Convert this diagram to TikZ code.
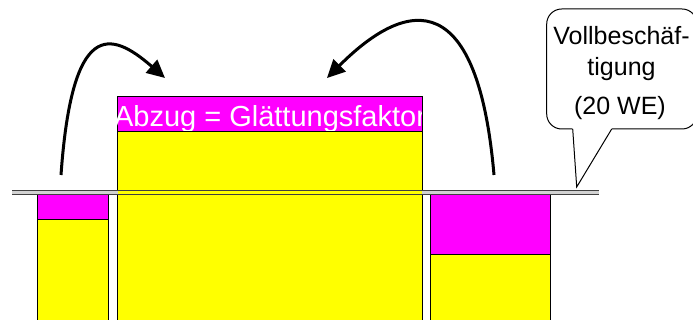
\documentclass[tikz,border=0pt]{standalone}
\usepackage{fontspec}
\setmainfont{Liberation Sans}
\usetikzlibrary{arrows.meta}
\definecolor{barY}{RGB}{255,255,0}
\definecolor{barM}{RGB}{255,0,255}
\begin{document}
\begin{tikzpicture}[x=1pt,y=-1pt,
  bar/.style={draw=black,line width=0.9pt,fill=barY,inner sep=0pt,outer sep=0pt,anchor=north west},
  topbox/.style={draw=black,line width=0.9pt,fill=barM,inner sep=0pt,outer sep=0pt,anchor=north west},
  bigarrow/.style={line width=3pt,-{Triangle[length=18pt,width=17pt]}},
  calltext/.style={font=\fontsize{25}{28}\selectfont,anchor=base,inner sep=0pt}]
\useasboundingbox (0,0) rectangle (693,320);
% bars
\node[bar,minimum width=71.5pt,minimum height=140pt] (lbar) at (37,193) {};
\node[topbox,minimum width=71.5pt,minimum height=26pt] (lcap) at (37,193) {};
\node[bar,minimum width=305pt,minimum height=240pt] (mbar) at (117,96) {};
\node[topbox,minimum width=305pt,minimum height=35.7pt] (mcap) at (117,96) {};
\node[bar,minimum width=120.7pt,minimum height=140pt] (rbar) at (430,193) {};
\node[topbox,minimum width=120.7pt,minimum height=61pt] (rcap) at (430,193) {};
\begin{scope}
\clip (117.5,96.5) rectangle (421.5,131);
\node[font=\fontsize{29}{32}\selectfont,text=white,anchor=base,inner sep=0pt] (abzug) at (270,126.5) {Abzug = Glättungsfaktor};
\end{scope}
% level line
\coordinate (ll) at (12,190.8);
\coordinate (lr) at (599,190.8);
\coordinate (ll2) at (12,194.4);
\coordinate (lr2) at (599,194.4);
\fill[gray!35] (ll) rectangle (lr2);
\fill[barY] (117.5,191.3) rectangle (421.5,193.9);
\draw[black!75,line width=0.9pt] (ll) -- (lr);
\draw[black!75,line width=0.9pt] (ll2) -- (lr2);
% callout
\draw[line width=1pt,rounded corners=15pt,fill=white] (572.7,129) -- (546.7,129) -- (546.7,9) -- (697,9) -- (697,129) -- (611.7,129);
\coordinate (ctip) at (576.7,187);
\fill[white] (572.7,128) -- (ctip) -- (611.7,128) -- cycle;
\draw[line width=1pt,line join=miter] (611.7,129) -- (ctip) -- (572.7,129);
\node[calltext] (c1) at (621.5,45) {Vollbeschäf-};
\node[calltext] (c2) at (621.5,76) {tigung};
\node[calltext] (c3) at (620,115) {(20 WE)};
% arrows
\coordinate (as) at (61,175);
\coordinate (at) at (165,78);
\coordinate (bs) at (494,175);
\coordinate (bt) at (327,78);
\draw[bigarrow] (as) .. controls (72,20) and (110,30) .. (at);
\draw[bigarrow] (bs) .. controls (478,-10) and (410,-5) .. (bt);
\end{tikzpicture}
\end{document}
